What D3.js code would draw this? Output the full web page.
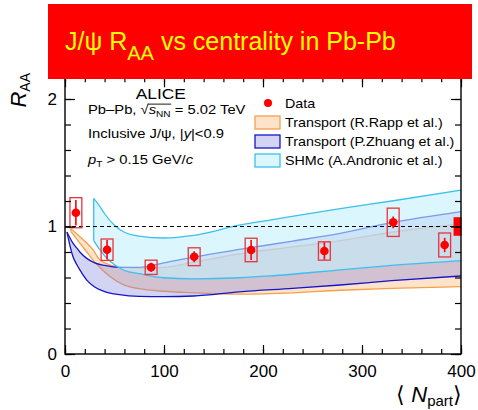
<!DOCTYPE html>
<html>
<head>
<meta charset="utf-8">
<script src="https://cdn.jsdelivr.net/npm/d3@7"></script>
<style>
  html, body { margin: 0; padding: 0; background: #fff; }
  svg { display: block; font-family: "Liberation Sans", Arial, Helvetica, sans-serif; }
</style>
</head>
<body>
<svg id="chart" width="478" height="410"></svg>
<script>
// ALICE inclusive J/psi R_AA vs <Npart>, Pb-Pb at 5.02 TeV, with model bands

// Measured points
const npart   = [11, 42.5, 87, 130.5, 188, 262, 331.5, 383.5];
const raa     = [1.108, 0.818, 0.68, 0.763, 0.816, 0.808, 1.033, 0.855];
const statErr = [0.10, 0.076, 0.035, 0.043, 0.078, 0.068, 0.046, 0.056];
const sysErr  = [0.118, 0.084, 0.056, 0.07, 0.092, 0.072, 0.111, 0.094];
const globalUnc = 0.073;

// Transport model (R. Rapp et al.)
const rappN    = [6, 10, 15, 22, 28, 35, 45, 60, 80, 100, 130, 176, 230, 278, 330, 400];
const rappHigh = [0.98, 0.955, 0.92, 0.87, 0.82, 0.74, 0.70, 0.68, 0.675, 0.68, 0.72, 0.785, 0.84, 0.89, 0.955, 1.02];
const rappLow  = [0.96, 0.92, 0.87, 0.80, 0.74, 0.68, 0.61, 0.54, 0.507, 0.492, 0.48, 0.47, 0.48, 0.50, 0.515, 0.528];

// Transport model (P. Zhuang et al.)
const zhuangN    = [2, 5, 8, 12, 15, 22, 30, 40, 55, 75, 100, 130, 176, 230, 278, 330, 400];
const zhuangHigh = [0.955, 0.91, 0.87, 0.83, 0.80, 0.75, 0.715, 0.695, 0.68, 0.68, 0.715, 0.76, 0.82, 0.885, 0.946, 1.03, 1.116];
const zhuangLow  = [0.955, 0.85, 0.765, 0.70, 0.66, 0.58, 0.525, 0.49, 0.465, 0.452, 0.45, 0.455, 0.488, 0.515, 0.541, 0.575, 0.612];

// Statistical hadronization model with charm (A. Andronic et al.)
const shmN    = [29, 35, 40, 50, 60, 75, 100, 130, 176, 207, 278, 330, 400];
const shmHigh = [1.22, 1.16, 1.10, 1.01, 0.955, 0.925, 0.91, 0.93, 1.01, 1.05, 1.14, 1.20, 1.285];
const shmLow  = [0.89, 0.82, 0.77, 0.70, 0.655, 0.63, 0.598, 0.59, 0.598, 0.612, 0.66, 0.695, 0.732];

const xMajor = [0, 100, 200, 300, 400];
const yMajor = [0, 1, 2];

const svg = d3.select("#chart");

const x = d3.scaleLinear().domain([0, 400]).range([65, 461]);
const y = d3.scaleLinear().domain([0, 2.17]).range([354, 354 - 2.17 * 127.5]);

const models = [
  { name: "Transport (R.Rapp et al.)",   n: rappN,   lo: rappLow,   hi: rappHigh,   fill: "#fcc896", op: 0.5,  stroke: "#f5a04a" },
  { name: "Transport (P.Zhuang et al.)", n: zhuangN, lo: zhuangLow, hi: zhuangHigh, fill: "#8080e0", op: 0.35, stroke: "#1515c8" },
  { name: "SHMc (A.Andronic et al.)",    n: shmN,    lo: shmLow,    hi: shmHigh,    fill: "#c4f0fb", op: 0.6,  stroke: "#3cbfee" }
];

const plot = svg.append("g");

// Model bands: fill first, then both edges
models.forEach(m => {
  const pts = m.n.map((v, i) => ({ n: v, lo: m.lo[i], hi: m.hi[i] }));
  const area = d3.area().curve(d3.curveMonotoneX)
    .x(d => x(d.n)).y0(d => y(d.lo)).y1(d => y(d.hi));
  plot.append("path").datum(pts).attr("d", area)
    .attr("fill", m.fill).attr("fill-opacity", m.op).attr("stroke", "none");
  const lineHi = d3.line().curve(d3.curveMonotoneX).x(d => x(d.n)).y(d => y(d.hi));
  const lineLo = d3.line().curve(d3.curveMonotoneX).x(d => x(d.n)).y(d => y(d.lo));
  [lineHi, lineLo].forEach(l => plot.append("path").datum(pts).attr("d", l)
    .attr("fill", "none").attr("stroke", m.stroke).attr("stroke-width", 1.3));
  // vertical closing edge where the band starts
  if (m.hi[0] !== m.lo[0]) {
    plot.append("line")
      .attr("x1", x(m.n[0])).attr("x2", x(m.n[0]))
      .attr("y1", y(m.hi[0])).attr("y2", y(m.lo[0]))
      .attr("stroke", m.stroke).attr("stroke-width", 1.3);
  }
});

// Unity reference line
plot.append("line")
  .attr("x1", x(0)).attr("x2", x(400)).attr("y1", y(1)).attr("y2", y(1))
  .attr("stroke", "#000").attr("stroke-width", 1.2).attr("stroke-dasharray", "4,3");

// Data: systematic boxes, statistical bars, markers
const data = npart.map((n, i) => ({ n, r: raa[i], st: statErr[i], sy: sysErr[i] }));
const dg = plot.append("g");
dg.selectAll("rect.sys").data(data).join("rect").attr("class", "sys")
  .attr("x", d => x(d.n - 6)).attr("width", d => x(d.n + 6) - x(d.n - 6))
  .attr("y", d => y(d.r + d.sy)).attr("height", d => y(d.r - d.sy) - y(d.r + d.sy))
  .attr("fill", "none").attr("stroke", "#e8343a").attr("stroke-width", 1.3);
dg.selectAll("line.stat").data(data).join("line").attr("class", "stat")
  .attr("x1", d => x(d.n)).attr("x2", d => x(d.n))
  .attr("y1", d => y(d.r + d.st)).attr("y2", d => y(d.r - d.st))
  .attr("stroke", "#ff0000").attr("stroke-width", 1.6);
dg.selectAll("circle").data(data).join("circle")
  .attr("cx", d => x(d.n)).attr("cy", d => y(d.r)).attr("r", 4.3)
  .attr("fill", "#ff0000");

// Global normalisation uncertainty at unity
plot.append("rect")
  .attr("x", x(392.5)).attr("width", x(400.5) - x(392.5))
  .attr("y", y(1 + globalUnc)).attr("height", y(1 - globalUnc) - y(1 + globalUnc))
  .attr("fill", "#ff0000");

// Axes with inward ticks on all four sides
const xMinor = d3.range(0, 401, 20);
const yMinor = d3.range(0, 2.17, 0.2);
function styleAxis(g) {
  g.select(".domain").remove();
  g.selectAll(".tick line").attr("stroke", "#000").attr("stroke-width", 1.2);
  g.selectAll("text").attr("fill", "#000").attr("font-size", 17)
    .attr("font-family", "'Liberation Sans', Arial, sans-serif");
}
const yTop = y.range()[1];
svg.append("g").attr("transform", `translate(0,${y(0)})`)
  .call(d3.axisBottom(x).tickValues(xMinor).tickSize(-5).tickFormat("")).call(styleAxis);
svg.append("g").attr("transform", `translate(0,${y(0)})`)
  .call(d3.axisBottom(x).tickValues(xMajor).tickSize(-9).tickPadding(11).tickFormat(d3.format("d"))).call(styleAxis);
svg.append("g").attr("transform", `translate(0,${yTop})`)
  .call(d3.axisTop(x).tickValues(xMinor).tickSize(-5).tickFormat("")).call(styleAxis);
svg.append("g").attr("transform", `translate(0,${yTop})`)
  .call(d3.axisTop(x).tickValues(xMajor).tickSize(-10).tickFormat("")).call(styleAxis);
svg.append("g").attr("transform", `translate(${x(0)},0)`)
  .call(d3.axisLeft(y).tickValues(yMinor).tickSize(-6).tickFormat("")).call(styleAxis);
svg.append("g").attr("transform", `translate(${x(0)},0)`)
  .call(d3.axisLeft(y).tickValues(yMajor).tickSize(-10).tickPadding(8).tickFormat(d3.format("d"))).call(styleAxis);
svg.append("g").attr("transform", `translate(${x(400)},0)`)
  .call(d3.axisRight(y).tickValues(yMinor).tickSize(-6).tickFormat("")).call(styleAxis);
svg.append("g").attr("transform", `translate(${x(400)},0)`)
  .call(d3.axisRight(y).tickValues(yMajor).tickSize(-10).tickFormat("")).call(styleAxis);

// Frame
svg.append("rect")
  .attr("x", x(0)).attr("y", yTop)
  .attr("width", x(400) - x(0)).attr("height", y(0) - yTop)
  .attr("fill", "none").attr("stroke", "#000").attr("stroke-width", 1.4);

// Axis titles
const yt = svg.append("text").attr("transform", "translate(26,73) rotate(-90)")
  .attr("text-anchor", "end").attr("fill", "#000").attr("font-size", 22);
yt.append("tspan").attr("font-style", "italic").text("R");
yt.append("tspan").attr("font-size", 14).attr("dy", 4).text("AA");

const xt = svg.append("text").attr("x", 462).attr("y", 402)
  .attr("text-anchor", "end").attr("fill", "#000").attr("font-size", 22);
xt.append("tspan").text("\u27E8 ");
xt.append("tspan").attr("font-style", "italic").text("N");
xt.append("tspan").attr("font-size", 15).attr("dy", 4).text("part");
xt.append("tspan").attr("dy", -4).text("\u27E9");

// Experiment / selection labels (slightly widened lettering)
const info = svg.append("g").attr("transform", "translate(88,0) scale(1.12,1)");
info.append("text").attr("x", 65).attr("y", 99.3).attr("text-anchor", "middle")
  .attr("font-size", 15.5).attr("fill", "#000").text("ALICE");

const base1 = 114.3;
const l1 = info.append("text").attr("x", 0).attr("y", base1).attr("font-size", 13.2).attr("fill", "#000");
l1.append("tspan").text("Pb\u2013Pb, ");
l1.append("tspan").text("\u221A");
l1.append("tspan").attr("font-style", "italic").text("s");
l1.append("tspan").attr("font-size", 9).attr("dy", 3).text("NN");
l1.append("tspan").attr("dy", -3).text(" = 5.02 TeV");
// overbar of the square root
{
  const node = l1.node();
  const rootBox = node.getExtentOfChar(7);
  const nnEnd = node.getExtentOfChar(10);
  info.append("line")
    .attr("x1", rootBox.x + rootBox.width - 0.6).attr("x2", nnEnd.x + nnEnd.width + 0.5)
    .attr("y1", base1 - 10.2).attr("y2", base1 - 10.2)
    .attr("stroke", "#000").attr("stroke-width", 0.9);
}

const l2 = info.append("text").attr("x", 0).attr("y", 137.8).attr("font-size", 13.2).attr("fill", "#000");
l2.append("tspan").text("Inclusive J/\u03C8, |");
l2.append("tspan").attr("font-style", "italic").text("y");
l2.append("tspan").text("|<0.9");

const l3 = info.append("text").attr("x", 0).attr("y", 164).attr("font-size", 13.2).attr("fill", "#000");
l3.append("tspan").attr("font-style", "italic").text("p");
l3.append("tspan").attr("font-size", 9).attr("dy", 3).text("T");
l3.append("tspan").attr("dy", -3).text(" > 0.15 GeV/");
l3.append("tspan").attr("font-style", "italic").text("c");

// Legend
const lg = svg.append("g");
lg.append("circle").attr("cx", 268).attr("cy", 103).attr("r", 4).attr("fill", "#ff0000");
lg.append("text").attr("transform", "translate(285,107.5) scale(1.06,1)")
  .attr("font-size", 13.5).attr("fill", "#000").text("Data");
models.forEach((m, i) => {
  const yy = 116 + i * 19;
  lg.append("rect").attr("x", 255).attr("y", yy).attr("width", 25).attr("height", 13)
    .attr("fill", m.fill).attr("fill-opacity", m.op).attr("stroke", m.stroke).attr("stroke-width", 1.3);
  lg.append("text").attr("transform", `translate(285,${yy + 11}) scale(1.06,1)`)
    .attr("font-size", 13.5).attr("fill", "#000").text(m.name);
});

// Title banner
svg.append("rect").attr("x", 48).attr("y", 4).attr("width", 424).attr("height", 75).attr("fill", "#ff0000");
const tt = svg.append("text").attr("x", 65).attr("y", 50).attr("font-size", 25).attr("fill", "#ffff00");
tt.append("tspan").text("J/\u03C8 R");
tt.append("tspan").attr("font-size", 20).attr("dy", 10).text("AA");
tt.append("tspan").attr("dy", -10).text(" vs centrality in Pb-Pb");
</script>
</body>
</html>
